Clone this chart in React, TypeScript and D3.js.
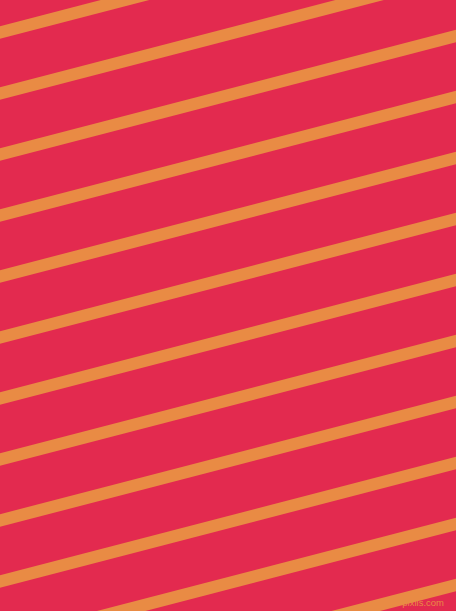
import React from "react";
import * as d3 from "d3";

const W = 456;
const H = 611;

// stripe indices (each stripe is one diagonal band)
const stripeIndex: number[] = [-2, -1, 0, 1, 2, 3, 4, 5, 6, 7, 8, 9, 10, 11, 12, 13];
const stripeSlope = 0.26; // rise per px (downwards to the left)
const colors = { background: "#E32A4F", stripe: "#E98B44", text: "#E98B44" };
const watermark = "pixlis.com";

export default function App() {
  // y-position of each stripe's centre at the left edge (x = 0)
  const yLeft = d3.scaleLinear().domain([0, 1]).range([32.5, 93.5]);
  const x = d3.scaleLinear().domain([0, 1]).range([-20, W + 20]);
  const line = d3
    .line<[number, number]>()
    .x((d) => d[0])
    .y((d) => d[1]);

  return (
    <svg
      width={W}
      height={H}
      style={{ position: "fixed", left: 0, top: 0, display: "block" }}
    >
      <rect width={W} height={H} fill={colors.background} />
      {stripeIndex.map((i) => {
        const x0 = x(0);
        const x1 = x(1);
        const y0 = yLeft(i) - stripeSlope * x0;
        const y1 = yLeft(i) - stripeSlope * x1;
        return (
          <path
            key={i}
            d={line([
              [x0, y0],
              [x1, y1],
            ]) as string}
            stroke={colors.stripe}
            strokeWidth={12.2}
            fill="none"
          />
        );
      })}
      <text
        x={444}
        y={606}
        textAnchor="end"
        fontFamily="Liberation Sans, Arial, sans-serif"
        fontSize={9.5}
        fill={colors.text}
      >
        {watermark}
      </text>
    </svg>
  );
}
